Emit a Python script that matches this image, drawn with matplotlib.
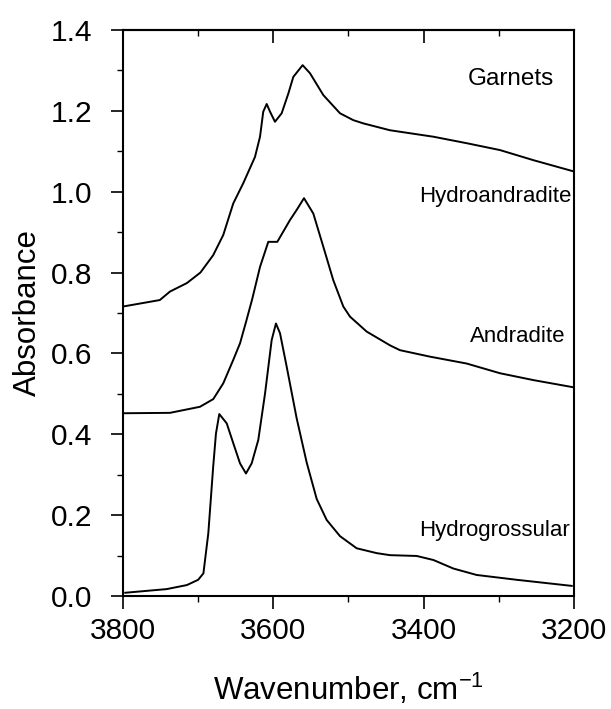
import matplotlib
matplotlib.use('Agg')
import matplotlib.pyplot as plt
from matplotlib.ticker import MultipleLocator

plt.rcParams['font.family'] = ['Liberation Sans', 'DejaVu Sans']
plt.rcParams['mathtext.fontset'] = 'custom'
plt.rcParams['mathtext.rm'] = 'Liberation Sans'

# Hydroandradite (top trace)
hydroandradite_wn = [3800, 3751, 3737.5, 3715, 3697, 3680, 3666.6, 3653.3, 3640, 3624.4,
                     3617.7, 3613.4, 3608.8, 3604.4, 3597.8, 3588.9, 3580, 3573.4, 3561, 3551.2,
                     3533.5, 3511.3, 3493.6, 3480.3, 3444.8, 3387, 3342.8, 3298.5, 3254, 3200]
hydroandradite_abs = [0.716, 0.732, 0.753, 0.774, 0.800, 0.843, 0.893, 0.971, 1.021, 1.086,
                      1.136, 1.198, 1.217, 1.198, 1.173, 1.194, 1.243, 1.284, 1.313, 1.293,
                      1.239, 1.194, 1.177, 1.169, 1.152, 1.136, 1.120, 1.103, 1.078, 1.050]

# Andradite (middle trace)
andradite_wn = [3800, 3737.5, 3697.6, 3679.9, 3666.6, 3653.3, 3644.3, 3636, 3628, 3617.7,
                3606.7, 3594.7, 3577.8, 3568.9, 3559.2, 3546.8, 3533.5, 3520.2, 3506.9, 3498,
                3475.8, 3444.8, 3431.5, 3391.6, 3342.8, 3298.5, 3254, 3200]
andradite_abs = [0.452, 0.453, 0.468, 0.487, 0.526, 0.584, 0.625, 0.680, 0.735, 0.814,
                 0.876, 0.876, 0.930, 0.955, 0.984, 0.946, 0.864, 0.781, 0.716, 0.691,
                 0.654, 0.620, 0.608, 0.592, 0.575, 0.551, 0.534, 0.516]

# Hydrogrossular (bottom trace)
hydrogrossular_wn = [3797, 3742, 3715, 3700, 3693, 3686.5, 3680, 3676.3, 3671.9, 3662,
                     3653.3, 3644.3, 3636.4, 3628.8, 3620, 3611, 3602.2, 3596.5, 3591.1, 3582.2,
                     3569, 3555.6, 3542.3, 3529, 3511.3, 3489.1, 3462.5, 3444.8, 3409.3, 3387,
                     3360.6, 3329.5, 3276, 3203]
hydrogrossular_abs = [0.008, 0.017, 0.027, 0.040, 0.056, 0.155, 0.320, 0.402, 0.450, 0.427,
                      0.378, 0.328, 0.303, 0.328, 0.386, 0.501, 0.633, 0.674, 0.650, 0.567,
                      0.440, 0.330, 0.240, 0.188, 0.148, 0.118, 0.106, 0.101, 0.099, 0.089,
                      0.068, 0.052, 0.040, 0.025]

labels = ['Garnets', 'Hydroandradite', 'Andradite', 'Hydrogrossular']
label_x = [3226, 3203, 3212, 3205]
label_y = [1.28, 0.987, 0.643, 0.163]
label_size = [17.5, 16, 16, 16]

fig = plt.figure(figsize=(6.11, 7.09), dpi=100)
ax = fig.add_axes([0.2013, 0.1594, 0.7381, 0.7983])

for wn, ab in [(hydroandradite_wn, hydroandradite_abs),
               (andradite_wn, andradite_abs),
               (hydrogrossular_wn, hydrogrossular_abs)]:
    ax.plot(wn, ab, color='black', linewidth=1.4, solid_joinstyle='round')

for txt, x, y, s in zip(labels, label_x, label_y, label_size):
    ax.text(x, y, txt, ha='right', va='center', fontsize=s)

ax.set_xlim(3800, 3200)
ax.set_ylim(0, 1.4)
ax.xaxis.set_major_locator(MultipleLocator(200))
ax.xaxis.set_minor_locator(MultipleLocator(100))
ax.yaxis.set_major_locator(MultipleLocator(0.2))
ax.yaxis.set_minor_locator(MultipleLocator(0.1))
ax.yaxis.set_major_formatter(plt.FormatStrFormatter('%.1f'))

ax.tick_params(axis='x', which='both', bottom=True, top=False, direction='out', labelsize=21.5, pad=6)
ax.tick_params(axis='x', which='major', length=9, width=1.2)
ax.tick_params(axis='x', which='minor', length=4.5, width=1)
ax.tick_params(axis='y', which='both', left=True, right=False, direction='out', labelsize=21.5, pad=13)
ax.tick_params(axis='y', which='major', length=9, width=1.2)
ax.tick_params(axis='y', which='minor', length=4.5, width=1)

# top ticks point into the plot
top = ax.secondary_xaxis('top')
top.xaxis.set_major_locator(MultipleLocator(200))
top.xaxis.set_minor_locator(MultipleLocator(100))
top.tick_params(which='both', direction='in', labeltop=False)
top.tick_params(which='major', length=9, width=1.2)
top.tick_params(which='minor', length=4.5, width=1)
top.spines['top'].set_linewidth(1.5)

for sp in ax.spines.values():
    sp.set_linewidth(1.5)

ax.set_xlabel('Wavenumber, cm$^{\\mathregular{-1}}$', fontsize=22.5, labelpad=19)
ax.set_ylabel('Absorbance', fontsize=22.5, labelpad=6)

fig.savefig('out.png', dpi=100)
